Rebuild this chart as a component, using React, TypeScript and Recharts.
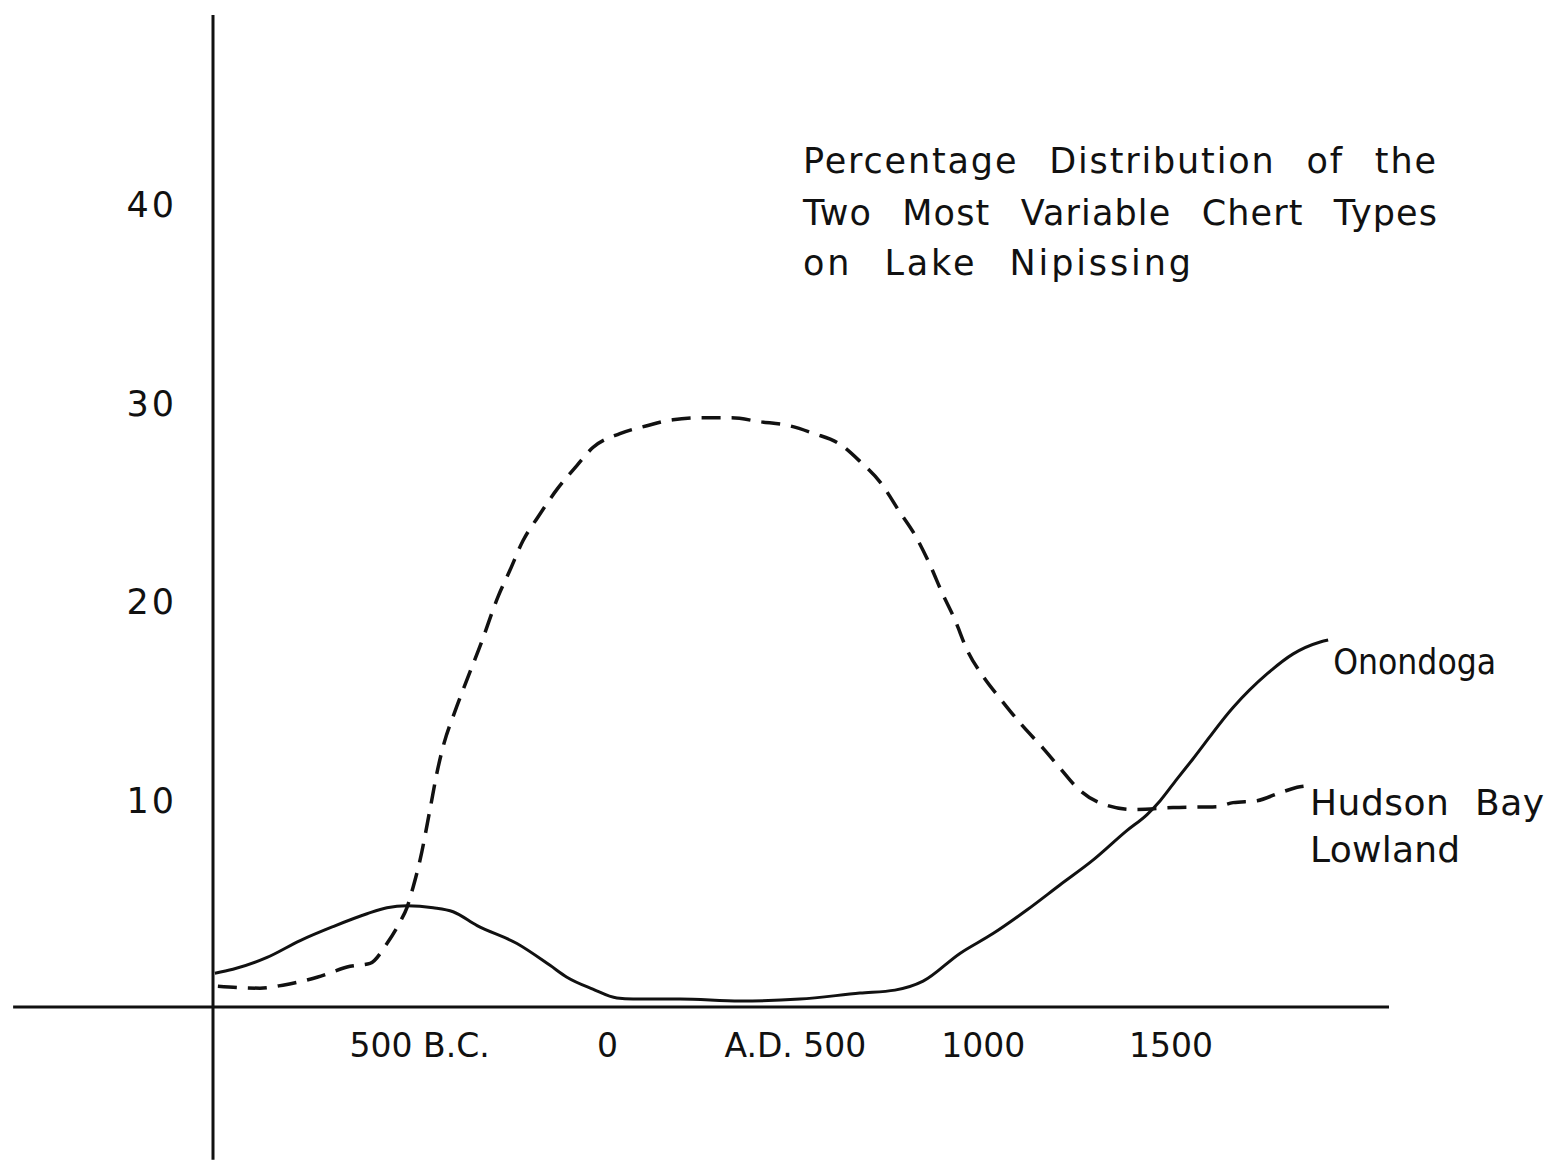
import { Line, LineChart, ReferenceLine, XAxis, YAxis } from "recharts";

const FONT = "'DejaVu Sans', sans-serif";
const INK = "#111";

const YEAR_TICKS = [-500, 0, 500, 1000, 1500];
const YEAR_LABELS = ["500 B.C.", "0", "A.D. 500", "1000", "1500"];
const PCT_TICKS = [10, 20, 30, 40];

const TITLE_LINES = [
  "Percentage Distribution of the",
  "Two Most Variable Chert Types",
  "on Lake Nipissing",
];

// Onondoga (solid line)
const ONONDOGA_YEARS = [
  -1045, -997, -906, -818, -731, -640, -587, -534, -464, -411, -347, -241, -153, -108, -39, 25, 68, 193,
  353, 512, 672, 765, 840, 938, 1026, 1117, 1204, 1292, 1383, 1436, 1471, 1516, 1556, 1665, 1756, 1825,
  1897, 1918,
];
const ONONDOGA_PCT = [
  1.7, 1.9, 2.5, 3.35, 4.05, 4.7, 5.0, 5.1, 5.0, 4.8, 4.1, 3.2, 2.1, 1.5, 0.9, 0.45, 0.4, 0.4, 0.3, 0.4,
  0.7, 0.85, 1.3, 2.7, 3.7, 4.9, 6.15, 7.4, 8.9, 9.7, 10.4, 11.5, 12.45, 15.1, 16.8, 17.8, 18.4, 18.5,
];

// Hudson Bay Lowland (dashed line)
const HUDSON_YEARS = [
  -1037, -925, -864, -773, -685, -632, -587, -552, -534, -518, -499, -472, -454, -435, -406, -374, -337,
  -291, -260, -225, -185, -134, -81, -39, 33, 105, 174, 254, 329, 406, 483, 550, 616, 672, 728, 776, 821,
  858, 890, 925, 957, 1002, 1047, 1101, 1159, 1204, 1250, 1303, 1399, 1505, 1622, 1665, 1729, 1790, 1843,
  1862,
];
const HUDSON_PCT = [
  1.05, 0.95, 1.1, 1.5, 2.05, 2.2, 3.2, 4.3, 5.0, 6.0, 7.4, 10.0, 11.8, 13.3, 14.9, 16.5, 18.3, 20.7, 22.0,
  23.5, 24.7, 26.1, 27.3, 28.2, 28.9, 29.3, 29.6, 29.7, 29.7, 29.5, 29.3, 28.9, 28.4, 27.5, 26.4, 25.0,
  23.7, 22.3, 20.9, 19.5, 18.0, 16.6, 15.5, 14.25, 13.05, 12.05, 11.05, 10.35, 9.95, 10.05, 10.1, 10.3,
  10.4, 10.8, 11.1, 11.15,
];

const X_DOMAIN: [number, number] = [-1050, 2080];
const Y_DOMAIN: [number, number] = [0, 50];
// the hand-drawn axes run past the plot: x axis out to the page edge, y axis below zero
const X_AXIS_FROM = -1582;
const Y_AXIS_TO = -7.7;

const onondoga = ONONDOGA_YEARS.map((year, i) => ({ year, pct: ONONDOGA_PCT[i] }));
const hudson = HUDSON_YEARS.map((year, i) => ({ year, pct: HUDSON_PCT[i] }));

const textStyle = { fontFamily: FONT, fill: INK } as const;

function YearTick({ x, y, payload }: any) {
  const label = YEAR_LABELS[YEAR_TICKS.indexOf(payload.value)];
  return (
    <text x={x} y={y + 50} textAnchor="middle" fontSize={33} {...textStyle}>
      {label}
    </text>
  );
}

function PctTick({ x, y, payload }: any) {
  return (
    <text
      x={x}
      y={y - 8}
      textAnchor="end"
      dominantBaseline="central"
      fontSize={35}
      letterSpacing={3}
      {...textStyle}
    >
      {payload.value}
    </text>
  );
}

// pull x/y of a label entry whichever way recharts hands it over
const pos = (p: any) => ({ x: p.viewBox?.x ?? p.x, y: p.viewBox?.y ?? p.y });

function OnondogaLabel(p: any) {
  if (p.index !== ONONDOGA_YEARS.length - 1) return null;
  const { x, y } = pos(p);
  return (
    <text x={x + 5} y={y + 34} fontSize={36} textLength={163} lengthAdjust="spacingAndGlyphs" {...textStyle}>
      Onondoga
    </text>
  );
}

function HudsonLabel(p: any) {
  if (p.index !== HUDSON_YEARS.length - 1) return null;
  const { x, y } = pos(p);
  return (
    <g>
      <text
        x={x + 3}
        y={y + 29}
        fontSize={36}
        wordSpacing={14}
        textLength={234}
        lengthAdjust="spacing"
        {...textStyle}
      >
        Hudson Bay
      </text>
      <text x={x + 3} y={y + 76} fontSize={36} textLength={150} lengthAdjust="spacing" {...textStyle}>
        Lowland
      </text>
    </g>
  );
}

const TITLE_BASELINES = [173, 225, 275];
const TITLE_WIDTHS = [633, 634, 388];

export default function App() {
  return (
    <div style={{ position: "absolute", left: 0, top: 0, background: "#fff" }}>
      <style>{"body{margin:0;background:#fff}"}</style>
      <LineChart width={1551} height={1166} margin={{ top: 15, right: 162, bottom: 0, left: 0 }}>
        <XAxis
          type="number"
          dataKey="year"
          domain={X_DOMAIN}
          ticks={YEAR_TICKS}
          height={159}
          axisLine={false}
          tickLine={false}
          tickSize={0}
          tickMargin={0}
          tick={<YearTick />}
        />
        <YAxis
          type="number"
          dataKey="pct"
          domain={Y_DOMAIN}
          ticks={PCT_TICKS}
          width={213}
          axisLine={false}
          tickLine={false}
          tickSize={0}
          tickMargin={36}
          tick={<PctTick />}
        />
        <ReferenceLine
          segment={[
            { x: X_AXIS_FROM, y: 0 },
            { x: X_DOMAIN[1], y: 0 },
          ]}
          ifOverflow="visible"
          stroke={INK}
          strokeWidth={3}
        />
        <ReferenceLine
          segment={[
            { x: X_DOMAIN[0], y: Y_DOMAIN[1] },
            { x: X_DOMAIN[0], y: Y_AXIS_TO },
          ]}
          ifOverflow="visible"
          stroke={INK}
          strokeWidth={3}
        />
        <Line
          data={onondoga}
          dataKey="pct"
          type="monotone"
          stroke={INK}
          strokeWidth={3}
          dot={false}
          label={<OnondogaLabel />}
          isAnimationActive={false}
        />
        <Line
          data={hudson}
          dataKey="pct"
          type="monotone"
          stroke={INK}
          strokeWidth={3.5}
          strokeDasharray="19 11"
          dot={false}
          label={<HudsonLabel />}
          isAnimationActive={false}
        />
        {TITLE_LINES.map((line, i) => (
          <text
            key={line}
            x={803}
            y={TITLE_BASELINES[i]}
            fontSize={35}
            wordSpacing={18}
            textLength={TITLE_WIDTHS[i]}
            lengthAdjust="spacing"
            {...textStyle}
          >
            {line}
          </text>
        ))}
      </LineChart>
    </div>
  );
}
